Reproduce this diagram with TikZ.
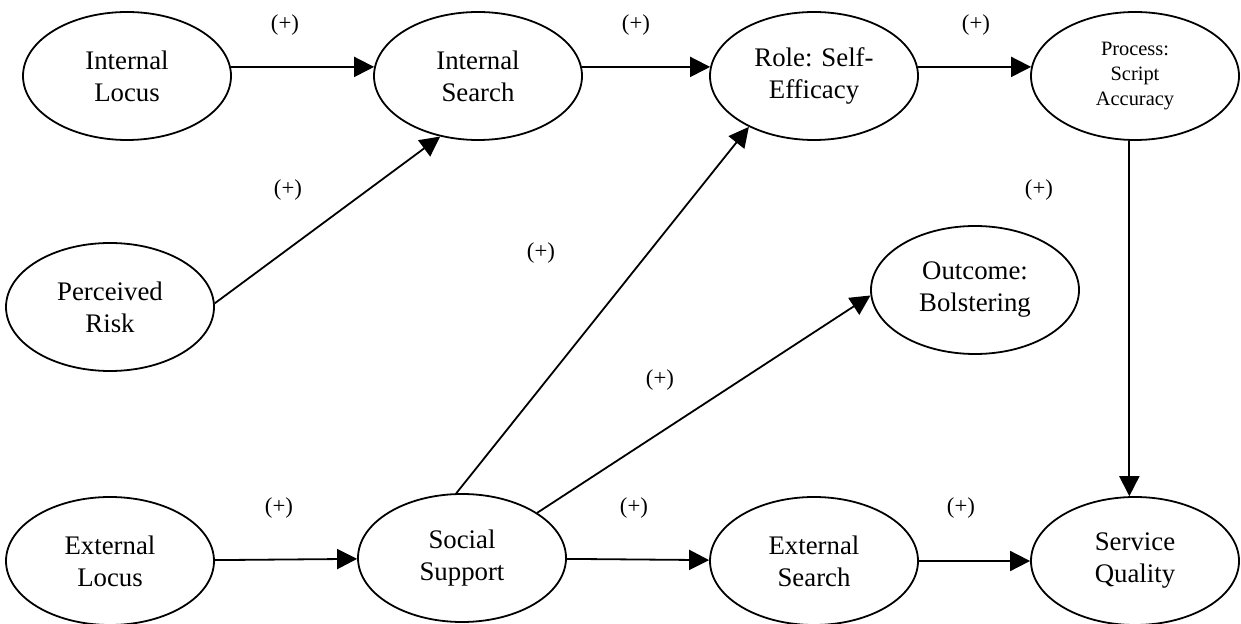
\documentclass[tikz,border=0pt]{standalone}
\usepackage{fontspec}
\setmainfont{Liberation Serif}
\usetikzlibrary{arrows.meta,shapes.geometric}
\begin{document}
\begin{tikzpicture}[x=0.5pt,y=-0.5pt,
		latent/.style={draw, ellipse, line width=0.9pt, align=center, inner sep=0pt, minimum width=104pt, minimum height=64pt, font=\fontsize{13.4}{16}\selectfont},
		link/.style={-{Triangle[length=10pt,width=10pt]}, line width=0.9pt},
		sign/.style={font=\fontsize{11.4}{13}\selectfont}]
			\useasboundingbox (0,0) rectangle (1241,624);
			% top row
			\node[latent] (il) at (127,76) {Internal\\Locus};
			\node[latent] (is) at (478,76) {Internal\\Search};
			\node[latent] (rse) at (814,76) {Role: Self-\\Efficacy};
			\node[latent, font=\fontsize{10.2}{12.5}\selectfont] (psa) at (1135,76) {Process:\\Script\\Accuracy};
			% middle
			\node[latent] (pr) at (110,307) {Perceived\\Risk};
			\node[latent] (ob) at (975,290) {Outcome:\\Bolstering};
			% bottom row
			\node[latent] (el) at (110,561) {External\\Locus};
			\node[latent] (ss) at (462,558) {Social\\Support};
			\node[latent] (es) at (814,561) {External\\Search};
			\node[latent] (sq) at (1135,561) {Service\\Quality};
			% paths
			\draw[link] (il.5) -- (is.175);
			\draw[link] (is.5) -- (rse.175);
			\draw[link] (rse.5) -- (psa.175);
			\draw[link] (pr.2) -- (is.238);
			\draw[link] (ss.95) -- (rse.218);
			\draw[link] (ss.31) -- (ob.183);
			\draw[link] (psa.265) -- (sq.95);
			\draw[link] (el) -- (ss);
			\draw[link] (ss) -- (es);
			\draw[link] (es) -- (sq);
			% signs
			\node[sign] (s1) at (285,25) {(+)};
			\node[sign] (s2) at (636,25) {(+)};
			\node[sign] (s3) at (976,25) {(+)};
			\node[sign] (s4) at (288,190) {(+)};
			\node[sign] (s5) at (541,253) {(+)};
			\node[sign] (s6) at (1039,190) {(+)};
			\node[sign] (s7) at (660,380) {(+)};
			\node[sign] (s8) at (279,508) {(+)};
			\node[sign] (s9) at (634,508) {(+)};
			\node[sign] (s10) at (961,508) {(+)};
\end{tikzpicture}
\end{document}
